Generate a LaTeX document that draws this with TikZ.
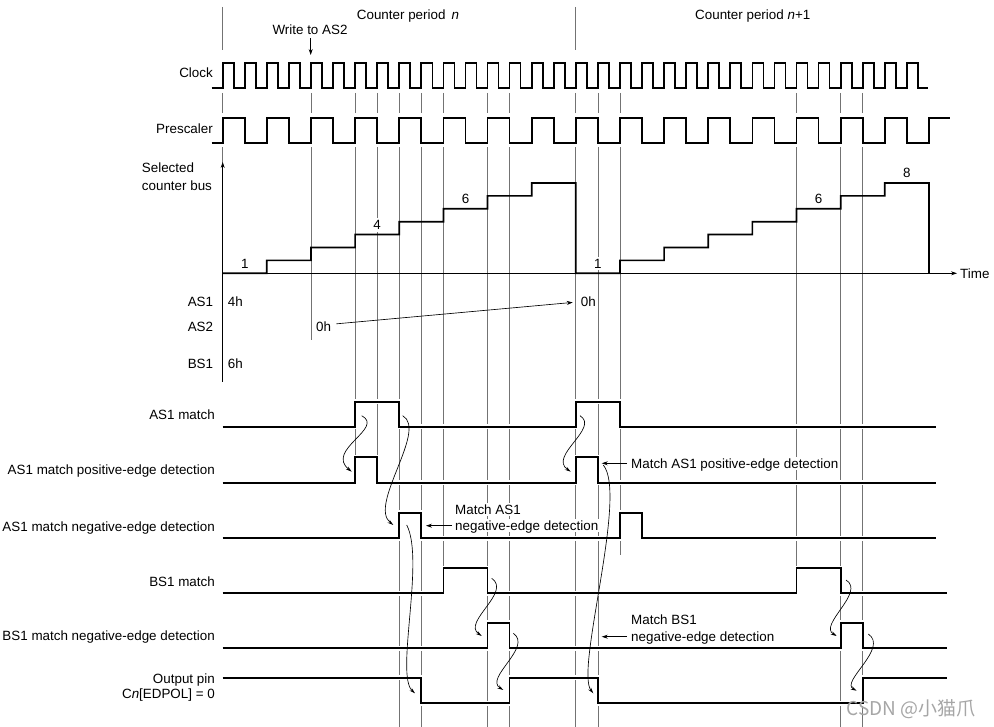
\documentclass[tikz,border=0pt]{standalone}
\usepackage{fontspec}
\setmainfont{Liberation Sans}
\newfontfamily\cjkfont{Noto Sans CJK SC}
\usetikzlibrary{arrows.meta}
\begin{document}
\begin{tikzpicture}[x=1pt,y=-1pt,font=\fontsize{13.4}{16}\selectfont,
  txt/.style={inner sep=0pt,text height=9.5pt,text depth=0pt},
  gaptxt/.style={txt,fill=white,inner sep=2pt},
  guide/.style={black!55,line width=0.75pt},
  wave/.style={line width=1.7pt},
  sig/.style={wave,preaction={draw=white,line width=5pt}},
  psc/.style={wave,preaction={draw=white,line width=9.5pt}},
  arr/.style={line width=0.65pt,-{Stealth[length=6pt,width=4pt]}},
  cause/.style={line width=0.65pt,-{Stealth[length=6pt,width=3.5pt]}}]
\useasboundingbox (0,0) rectangle (994,727);
\draw[guide] (222.7,7) -- (222.7,50) (575.8,7) -- (575.8,50);
\foreach \x/\yb in {222.7/163,311.0/340,355.1/482,377.2/457,399.3/727,421.3/727,443.4/568,487.5/727,
  509.6/727,575.8/727,597.9/727,620.0/555,796.5/568,840.7/727,862.7/727}
  \draw[guide] (\x,93) -- (\x,\yb);
\node[txt,anchor=west] (pn) at (356.7,15) {Counter period \,\textit{n}};
\node[txt,anchor=west] (pn1) at (695,15) {Counter period \textit{n}+1};
\node[txt] (wr) at (310,30) {Write to AS2}; \coordinate (wrtip) at (310.7,55);
\draw[arr,shorten <=3.5pt] (wr.south -| wrtip) -- (wrtip);
\node[txt,anchor=east] (clk) at (213,73) {Clock};
\node[txt,anchor=east] (pre) at (213,129) {Prescaler};
\draw[wave] (211.7,88.3) \foreach \k in {0,...,31}{ -- ({222.7+22.07*\k},88.3) -- ++(0,-25.6) -- ++(11.03,0) -- ++(0,25.6) } -- (928,88.3);
\draw[psc] (211.7,142.7) \foreach \m in {0,...,15}{ -- ({222.7+44.14*\m},142.7) -- ++(0,-25) -- ++(22.07,0) -- ++(0,25) } -- (928.9,142.7) -- (928.9,117.7) -- (950,117.7);
\node[txt,anchor=west] (sel) at (141.7,167.3) {Selected};
\node[txt,anchor=west] (bus) at (141.7,186) {counter bus};
\node[txt,anchor=west] (time) at (960,273.3) {Time};
\draw[arr] (222.7,382) -- (222.7,162);
\draw[arr,shorten >=3pt] (222.7,273.3) -- (time.west);
\draw[wave] (222.7,273.3) \foreach \i in {1,...,7}{ -- ({222.7+44.14*\i},{273.3-12.9*(\i-1)}) -- ++(0,-12.9) } -- (575.8,183) -- (575.8,273.3)
  \foreach \i in {9,...,15}{ -- ({222.7+44.14*\i},{273.3-12.9*(\i-9)}) -- ++(0,-12.9) } -- (928.9,183) -- (928.9,273.3);
\node[txt] (v1) at (244.8,263.3) {1}; \node[gaptxt] (v4) at (377.2,225) {4};
\node[txt] (v6) at (465.5,198.3) {6}; \node[gaptxt] (w1) at (597.9,263.3) {1};
\node[txt] (w6) at (818.6,198.3) {6}; \node[txt] (w8) at (906.9,172.7) {8};
\node[txt,anchor=east] (as1) at (213.3,301.7) {AS1}; \node[txt,anchor=west] (as1a) at (227.7,301.7) {4h};
\node[txt,anchor=east] (as2) at (213.3,326.7) {AS2}; \node[txt,anchor=west] (as2a) at (316,326.7) {0h};
\node[txt,anchor=east] (bs1) at (213.3,363.3) {BS1}; \node[txt,anchor=west] (bs1a) at (227.7,363.3) {6h};
\node[txt,anchor=west] (as1b) at (580.7,301.7) {0h};
\draw[arr,shorten <=5pt,shorten >=8pt] ([yshift=2.4pt]as2a.east) -- (as1b.west);
\node[txt,anchor=east] (m1) at (215,415) {AS1 match};
\node[txt,anchor=east] (m1p) at (215,469.3) {AS1 match positive-edge detection};
\node[txt,anchor=east] (m1n) at (215,526.7) {AS1 match negative-edge detection};
\node[txt,anchor=east] (m2) at (215,581.7) {BS1 match};
\node[txt,anchor=east] (m2n) at (215,636) {BS1 match negative-edge detection};
\node[txt,anchor=east] (out) at (215,678.3) {Output pin};
\node[txt,anchor=east] (outp) at (215,693.3) {C\textit{n}[EDPOL] = 0};
\draw[sig] (222.7,426.7) -| (355.1,401.7) -| (399.3,426.7) -| (575.8,401.7) -| (620.0,426.7) -- (935.7,426.7);
\draw[sig] (222.7,482.7) -| (355.1,457.3) -| (377.2,482.7) -| (575.8,457.3) -| (597.9,482.7) -- (935.7,482.7);
\draw[sig] (222.7,538.3) -| (399.3,512.7) -| (421.3,538.3) -| (620.0,512.7) -| (642.0,538.3) -- (935.7,538.3);
\draw[sig] (222.7,593.3) -| (443.4,568.3) -| (487.5,593.3) -| (796.5,568.3) -| (840.7,593.3) -- (946.7,593.3);
\draw[sig] (222.7,648.3) -| (487.5,622.7) -| (509.6,648.3) -| (840.7,622.7) -| (862.7,648.3) -- (946.7,648.3);
\draw[sig] (222.7,677.7) -| (421.3,703.3) -| (509.6,677.7) -| (597.9,703.3) -| (862.7,677.7) -- (946.7,677.7);
\node[gaptxt,anchor=west] (mpos) at (629,463.3) {Match AS1 positive-edge detection};
\coordinate (mpostip) at (601.7,463.3); \draw[arr,shorten <=2pt] (mpos.west) -- (mpostip);
\node[gaptxt,anchor=west] (mneg) at (453,509.3) {Match AS1};
\node[gaptxt,anchor=west] (mneg2) at (453,525.7) {negative-edge detection};
\coordinate (mnegtip) at (426,525.7); \draw[arr,shorten <=1pt] (mneg2.west) -- (mnegtip);
\node[gaptxt,anchor=west] (mbs) at (629,620) {Match BS1};
\node[gaptxt,anchor=west] (mbs2) at (629,636.7) {negative-edge detection};
\coordinate (mbstip) at (601.7,636.7); \draw[arr,shorten <=2pt] (mbs2.west) -- (mbstip);
\draw[cause] (361.7,415.7) .. controls (385,428) and (325,450) .. (351.7,471.7);
\draw[cause] (402.7,415.7) .. controls (428,430) and (368,505) .. (393.3,525);
\draw[cause] (406.7,525) .. controls (425,560) and (395,675) .. (415,693.3);
\draw[cause] (491.7,578.3) .. controls (512,592) and (462,622) .. (481.7,636);
\draw[cause] (513.3,633.3) .. controls (533,647) and (484,678) .. (503.3,690);
\draw[cause] (580,415.7) .. controls (600,428) and (548,456) .. (570.7,471.7);
\draw[cause] (603.3,465) .. controls (628,495) and (575,670) .. (593.3,693.3);
\draw[cause] (846,580) .. controls (866,592) and (818,625) .. (836.7,636);
\draw[cause] (868.3,634) .. controls (889,648) and (840,682) .. (856.7,690.7);
\node[anchor=west,inner sep=0pt,text=black!35,font=\cjkfont\fontsize{19}{20}\selectfont] (wm) at (846.7,709.3) {CSDN @小猫爪};
\end{tikzpicture}
\end{document}
